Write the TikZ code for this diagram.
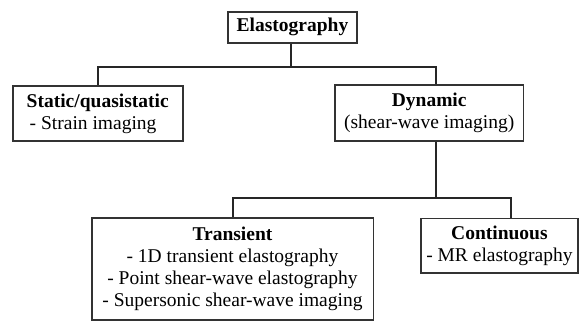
\documentclass[tikz,border=0pt]{standalone}
\usepackage{fontspec}
\setmainfont{Liberation Serif}
\begin{document}
\begin{tikzpicture}[x=1pt,y=-1pt,
  box/.style={draw=black!80,line width=1.6pt,inner sep=0pt,align=center,
    font=\fontsize{19.5}{22}\selectfont},
  link/.style={draw=black!85,line width=2pt}]
\useasboundingbox (0,0) rectangle (580,322);
\node[box,minimum width=129pt,minimum height=31pt] (E) at (292.5,27.3) {\textbf{Elastography}};
\node[box,minimum width=170pt,minimum height=55pt,align=left] (S) at (97.7,113.5)
  {\textbf{Static/quasistatic}\\\hspace*{3pt}- Strain imaging};
\node[box,minimum width=188.3pt,minimum height=56pt] (D) at (429.2,113)
  {\textbf{Dynamic}\\(shear-wave imaging)};
\node[box,minimum width=281.6pt,minimum height=102pt] (T) at (232.5,269)
  {\textbf{Transient}\\- 1D transient elastography\\- Point shear-wave elastography\\- Supersonic shear-wave imaging};
\node[box,minimum width=157.3pt,minimum height=54.4pt] (C) at (499.4,245.5)
  {\textbf{Continuous}\\- MR elastography};
\coordinate (j1) at (290.7,67);
\coordinate (j2) at (436,198);
\draw[link] ([xshift=-1.8pt]E.south) -- (j1);
\draw[link] (j1) -| (S.north);
\draw[link] (j1) -| ([xshift=6.8pt]D.north);
\draw[link] ([xshift=6.8pt]D.south) -- (j2);
\draw[link] (j2) -| (T.north);
\draw[link] (j2) -| ([xshift=11.5pt]C.north);
\end{tikzpicture}
\end{document}
